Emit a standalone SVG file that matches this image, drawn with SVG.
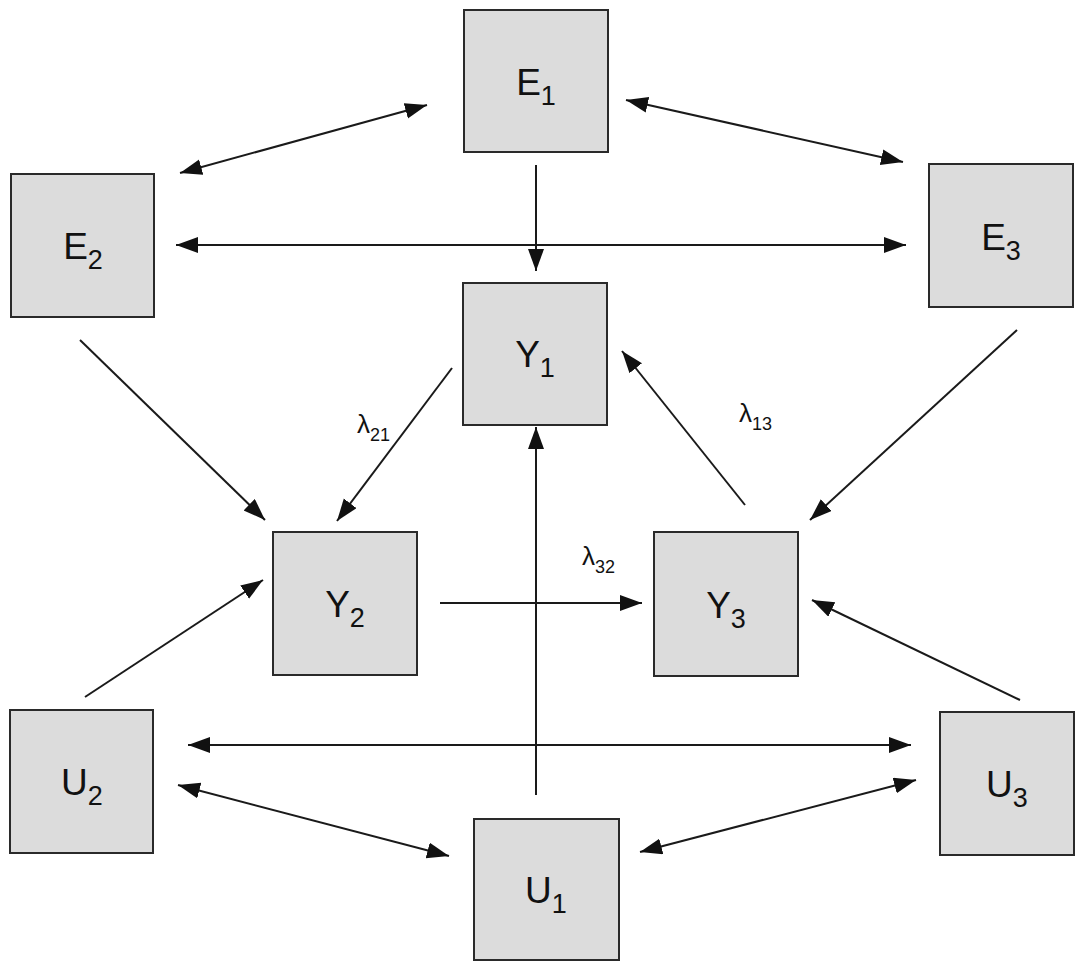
<svg xmlns="http://www.w3.org/2000/svg" width="1076" height="962" viewBox="0 0 1076 962">
<style>
.box{fill:#dcdcdc;stroke:#2a2a2a;stroke-width:2}
.lbl{font-family:"Liberation Sans",Arial,sans-serif;font-size:37px;fill:#111;text-anchor:middle}
.sub{font-size:27px}
.lam{font-family:"Liberation Sans",Arial,sans-serif;font-size:26px;fill:#111}
.lsub{font-size:18px}
.c{stroke:#1a1a1a;stroke-width:2;fill:none}
.one{marker-end:url(#ah)}
.two{marker-end:url(#ah);marker-start:url(#ah)}
</style>
<defs>
<marker id="ah" markerUnits="userSpaceOnUse" markerWidth="24" markerHeight="18" refX="22" refY="8" orient="auto-start-reverse">
<path d="M0,0 L22,8 L0,16 z" fill="#111"/>
</marker>
</defs>
<rect width="1076" height="962" fill="#fff"/>
<g id="connectors">
<line class="c two" x1="180" y1="173" x2="427" y2="105"/>
<line class="c two" x1="626" y1="100" x2="903" y2="162"/>
<line class="c two" x1="176" y1="245" x2="906" y2="245"/>
<line class="c one" x1="536" y1="165" x2="536" y2="271"/>
<line class="c one" x1="80" y1="340" x2="265" y2="520"/>
<line class="c one" x1="1017" y1="330" x2="810" y2="520"/>
<line class="c one" x1="452" y1="368" x2="337" y2="521"/>
<line class="c one" x1="745" y1="505" x2="622" y2="351"/>
<line class="c one" x1="440" y1="603" x2="642" y2="603"/>
<line class="c one" x1="536" y1="795" x2="536" y2="427"/>
<line class="c one" x1="85" y1="697" x2="263" y2="580"/>
<line class="c one" x1="1020" y1="700" x2="812" y2="600"/>
<line class="c two" x1="188" y1="745" x2="911" y2="745"/>
<line class="c two" x1="178" y1="785" x2="449" y2="856"/>
<line class="c two" x1="640" y1="852" x2="916" y2="780"/>
</g>
<g id="labels">
<text class="lam" x="357" y="433">λ<tspan class="lsub" dy="8">21</tspan></text>
<text class="lam" x="739" y="422">λ<tspan class="lsub" dy="8">13</tspan></text>
<text class="lam" x="582" y="565">λ<tspan class="lsub" dy="8">32</tspan></text>
</g>
<g id="E1"><rect class="box" x="464" y="10" width="144" height="142"/><text class="lbl" x="536" y="95">E<tspan class="sub" dy="10">1</tspan></text></g>
<g id="E2"><rect class="box" x="11" y="174" width="143" height="143"/><text class="lbl" x="83" y="259">E<tspan class="sub" dy="10">2</tspan></text></g>
<g id="E3"><rect class="box" x="929" y="164" width="144" height="143"/><text class="lbl" x="1001" y="250">E<tspan class="sub" dy="10">3</tspan></text></g>
<g id="Y1"><rect class="box" x="463" y="283" width="144" height="142"/><text class="lbl" x="535" y="367">Y<tspan class="sub" dy="10">1</tspan></text></g>
<g id="Y2"><rect class="box" x="273" y="532" width="144" height="143"/><text class="lbl" x="345" y="617">Y<tspan class="sub" dy="10">2</tspan></text></g>
<g id="Y3"><rect class="box" x="654" y="532" width="144" height="144"/><text class="lbl" x="726" y="618">Y<tspan class="sub" dy="10">3</tspan></text></g>
<g id="U2"><rect class="box" x="10" y="710" width="143" height="143"/><text class="lbl" x="82" y="795">U<tspan class="sub" dy="10">2</tspan></text></g>
<g id="U1"><rect class="box" x="474" y="819" width="145" height="141"/><text class="lbl" x="546" y="903">U<tspan class="sub" dy="10">1</tspan></text></g>
<g id="U3"><rect class="box" x="940" y="712" width="134" height="143"/><text class="lbl" x="1007" y="797">U<tspan class="sub" dy="10">3</tspan></text></g>
</svg>
